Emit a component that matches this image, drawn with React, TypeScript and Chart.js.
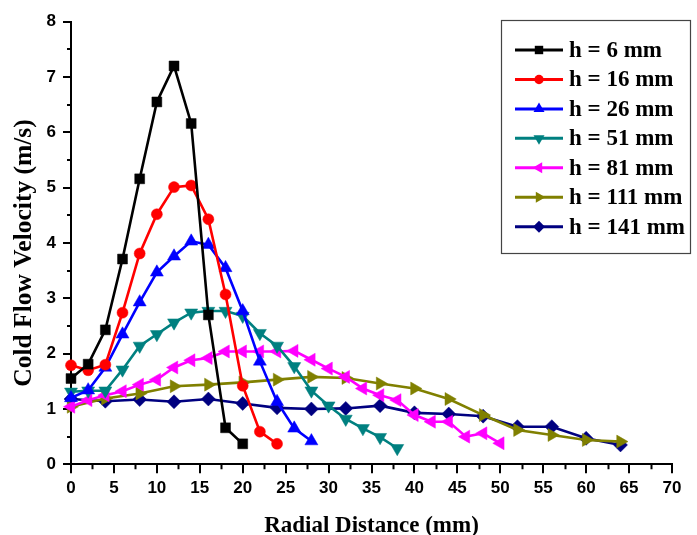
import React, { useEffect, useRef } from 'react';
import { Chart, registerables } from 'chart.js';

Chart.register(...registerables);

// Radial positions (mm) for each measurement height
const radialH6 = [0, 2, 4, 6, 8, 10, 12, 14, 16, 18, 20];
const radialH16 = [0, 2, 4, 6, 8, 10, 12, 14, 16, 18, 20, 22, 24];
const radialH26 = [0, 2, 4, 6, 8, 10, 12, 14, 16, 18, 20, 22, 24, 26, 28];
const radialH51 = [0, 2, 4, 6, 8, 10, 12, 14, 16, 18, 20, 22, 24, 26, 28, 30, 32, 34, 36, 38];
const radialH81 = [0, 2, 4, 6, 8, 10, 12, 14, 16, 18, 20, 22, 24, 26, 28, 30, 32, 34, 36, 38, 40, 42, 44, 46, 48, 50];
const radialH111 = [0, 4, 8, 12, 16, 20, 24, 28, 32, 36, 40, 44, 48, 52, 56, 60, 64];
const radialH141 = [0, 4, 8, 12, 16, 20, 24, 28, 32, 36, 40, 44, 48, 52, 56, 60, 64];

// Cold flow velocity (m/s)
const velH6 = [1.55, 1.81, 2.43, 3.71, 5.16, 6.55, 7.2, 6.16, 2.7, 0.66, 0.37];
const velH16 = [1.79, 1.7, 1.8, 2.74, 3.81, 4.52, 5.01, 5.04, 4.43, 3.07, 1.42, 0.59, 0.37];
const velH26 = [1.2, 1.34, 1.75, 2.35, 2.93, 3.47, 3.76, 4.03, 3.97, 3.55, 2.77, 1.86, 1.13, 0.65, 0.42];
const velH51 = [1.31, 1.33, 1.33, 1.71, 2.14, 2.35, 2.56, 2.74, 2.77, 2.77, 2.68, 2.37, 2.14, 1.77, 1.33, 1.06, 0.82, 0.65, 0.49, 0.29];
const velH81 = [1.04, 1.16, 1.25, 1.32, 1.44, 1.53, 1.75, 1.88, 1.92, 2.04, 2.04, 2.04, 2.04, 2.05, 1.89, 1.73, 1.58, 1.37, 1.25, 1.16, 0.89, 0.77, 0.77, 0.5, 0.56, 0.38];
const velH111 = [1.04, 1.19, 1.28, 1.41, 1.44, 1.48, 1.53, 1.58, 1.56, 1.46, 1.37, 1.18, 0.89, 0.62, 0.53, 0.44, 0.41];
const velH141 = [1.18, 1.14, 1.17, 1.13, 1.18, 1.1, 1.02, 1.0, 1.01, 1.06, 0.93, 0.91, 0.87, 0.68, 0.68, 0.47, 0.35];

const seriesLabels = ['h = 6 mm', 'h = 16 mm', 'h = 26 mm', 'h = 51 mm', 'h = 81 mm', 'h = 111 mm', 'h = 141 mm'];
const seriesColors = ['#000000', '#FF0000', '#0000FF', '#008080', '#FF00FF', '#808000', '#000080'];
const seriesMarkers = ['rect', 'circle', 'triangle', 'triangle', 'triangle', 'triangle', 'rectRot'];
const markerRotations = [0, 0, 0, 180, 270, 90, 0];
const markerRadii = [7, 5.5, 7.5, 7.5, 7.5, 7.5, 7];

const radialSets = [radialH6, radialH16, radialH26, radialH51, radialH81, radialH111, radialH141];
const velocitySets = [velH6, velH16, velH26, velH51, velH81, velH111, velH141];

const yAxisTitle = 'Cold Flow Velocity (m/s)';
const xAxisTitle = 'Radial Distance (mm)';

const tickFont = { family: 'Liberation Sans, Arial, sans-serif', weight: 'bold' as const, size: 17 };
const titleFont = { family: 'Liberation Serif, Times New Roman, serif', weight: 'bold' as const, size: 23, lineHeight: 0.8 };

function drawMarker(
  ctx: CanvasRenderingContext2D,
  style: string,
  rotationDeg: number,
  x: number,
  y: number,
  r: number,
  color: string
) {
  ctx.save();
  ctx.fillStyle = color;
  ctx.beginPath();
  if (style === 'circle') {
    ctx.arc(x, y, r, 0, Math.PI * 2);
  } else if (style === 'rect') {
    const s = Math.SQRT1_2 * r;
    ctx.rect(x - s, y - s, 2 * s, 2 * s);
  } else if (style === 'rectRot') {
    ctx.moveTo(x, y - r);
    ctx.lineTo(x + r, y);
    ctx.lineTo(x, y + r);
    ctx.lineTo(x - r, y);
    ctx.closePath();
  } else {
    let rad = (rotationDeg * Math.PI) / 180;
    for (let i = 0; i < 3; i++) {
      const px = x + Math.sin(rad) * r;
      const py = y - Math.cos(rad) * r;
      if (i === 0) ctx.moveTo(px, py);
      else ctx.lineTo(px, py);
      rad += (2 * Math.PI) / 3;
    }
    ctx.closePath();
  }
  ctx.fill();
  ctx.restore();
}

// Minor tick marks, the vertical axis title and the boxed legend
const axisAndLegendPlugin = {
  id: 'axisAndLegend',
  afterDraw(chart: any) {
    const { ctx, chartArea } = chart;
    const xs = chart.scales.x;
    const ys = chart.scales.y;
    ctx.save();
    ctx.strokeStyle = '#000';
    ctx.lineWidth = 2;
    ctx.beginPath();
    for (let v = 2.5; v < 70; v += 5) {
      const px = Math.round(xs.getPixelForValue(v)) + 0.5;
      ctx.moveTo(px, chartArea.bottom);
      ctx.lineTo(px, chartArea.bottom + 5);
    }
    for (let v = 0.5; v < 8; v += 1) {
      const py = Math.round(ys.getPixelForValue(v));
      ctx.moveTo(chartArea.left, py);
      ctx.lineTo(chartArea.left - 4, py);
    }
    ctx.stroke();

    // vertical axis title
    ctx.save();
    ctx.translate(24, 253);
    ctx.rotate(-Math.PI / 2);
    ctx.font = 'bold 25.5px "Liberation Serif", "Times New Roman", serif';
    ctx.fillStyle = '#000';
    ctx.textAlign = 'center';
    ctx.textBaseline = 'middle';
    ctx.fillText(yAxisTitle, 0, 0);
    ctx.restore();

    // legend box
    const boxLeft = 501.5;
    const boxTop = 20.5;
    const boxRight = 690.5;
    const boxBottom = 253.5;
    ctx.fillStyle = '#fff';
    ctx.fillRect(boxLeft, boxTop, boxRight - boxLeft, boxBottom - boxTop);
    ctx.strokeStyle = '#444';
    ctx.lineWidth = 1.2;
    ctx.strokeRect(boxLeft, boxTop, boxRight - boxLeft, boxBottom - boxTop);

    ctx.font = 'bold 23px "Liberation Serif", "Times New Roman", serif';
    ctx.textBaseline = 'middle';
    ctx.textAlign = 'left';
    seriesLabels.forEach((label, i) => {
      const cy = 50 + i * 29.45;
      ctx.strokeStyle = seriesColors[i];
      ctx.lineWidth = 3;
      ctx.beginPath();
      ctx.moveTo(515, cy);
      ctx.lineTo(563, cy);
      ctx.stroke();
      drawMarker(ctx, seriesMarkers[i], markerRotations[i], 539, cy, markerRadii[i] * 0.85, seriesColors[i]);
      ctx.fillStyle = '#000';
      ctx.fillText(label, 569, cy + 1);
    });
    ctx.restore();
  },
};

export default function App() {
  const canvasRef = useRef<HTMLCanvasElement | null>(null);

  useEffect(() => {
    if (!canvasRef.current) return;
    const datasets = seriesLabels.map((label, i) => ({
      label,
      data: radialSets[i].map((r, j) => ({ x: r, y: velocitySets[i][j] })),
      borderColor: seriesColors[i],
      backgroundColor: seriesColors[i],
      pointBackgroundColor: seriesColors[i],
      pointBorderColor: seriesColors[i],
      pointBorderWidth: 0.5,
      borderWidth: 2.6,
      pointStyle: seriesMarkers[i],
      pointRotation: markerRotations[i],
      pointRadius: markerRadii[i],
      tension: 0,
      clip: false as const,
    }));

    const chart = new Chart(canvasRef.current, {
      type: 'line',
      data: { datasets },
      options: {
        responsive: false,
        animation: false,
        events: [],
        layout: { padding: { top: 21.7, right: 25, left: 0, bottom: 0 } },
        plugins: { legend: { display: false }, tooltip: { enabled: false } },
        scales: {
          x: {
            type: 'linear',
            min: 0,
            max: 70,
            afterFit: (scale: any) => {
              scale.height = 70.7;
            },
            ticks: {
              stepSize: 5,
              autoSkip: false,
              maxRotation: 0,
              padding: 5,
              color: '#000',
              font: tickFont,
            },
            grid: { drawOnChartArea: false, drawTicks: true, tickLength: 9, color: '#000', lineWidth: 2 },
            border: { color: '#000', width: 2 },
            title: {
              display: true,
              text: xAxisTitle,
              color: '#000',
              font: titleFont,
              padding: { top: 0, bottom: 0 },
            },
          },
          y: {
            type: 'linear',
            min: 0,
            max: 8,
            afterFit: (scale: any) => {
              scale.width = 71;
            },
            ticks: {
              stepSize: 1,
              padding: 7,
              color: '#000',
              font: tickFont,
            },
            grid: { drawOnChartArea: false, drawTicks: true, tickLength: 8, color: '#000', lineWidth: 2 },
            border: { color: '#000', width: 2 },
            title: { display: false },
          },
        },
      },
      plugins: [axisAndLegendPlugin],
    });
    return () => chart.destroy();
  }, []);

  return (
    <div style={{ position: 'absolute', left: 0, top: 0, width: 697, height: 535, background: '#fff' }}>
      <canvas ref={canvasRef} width={697} height={535} />
    </div>
  );
}
